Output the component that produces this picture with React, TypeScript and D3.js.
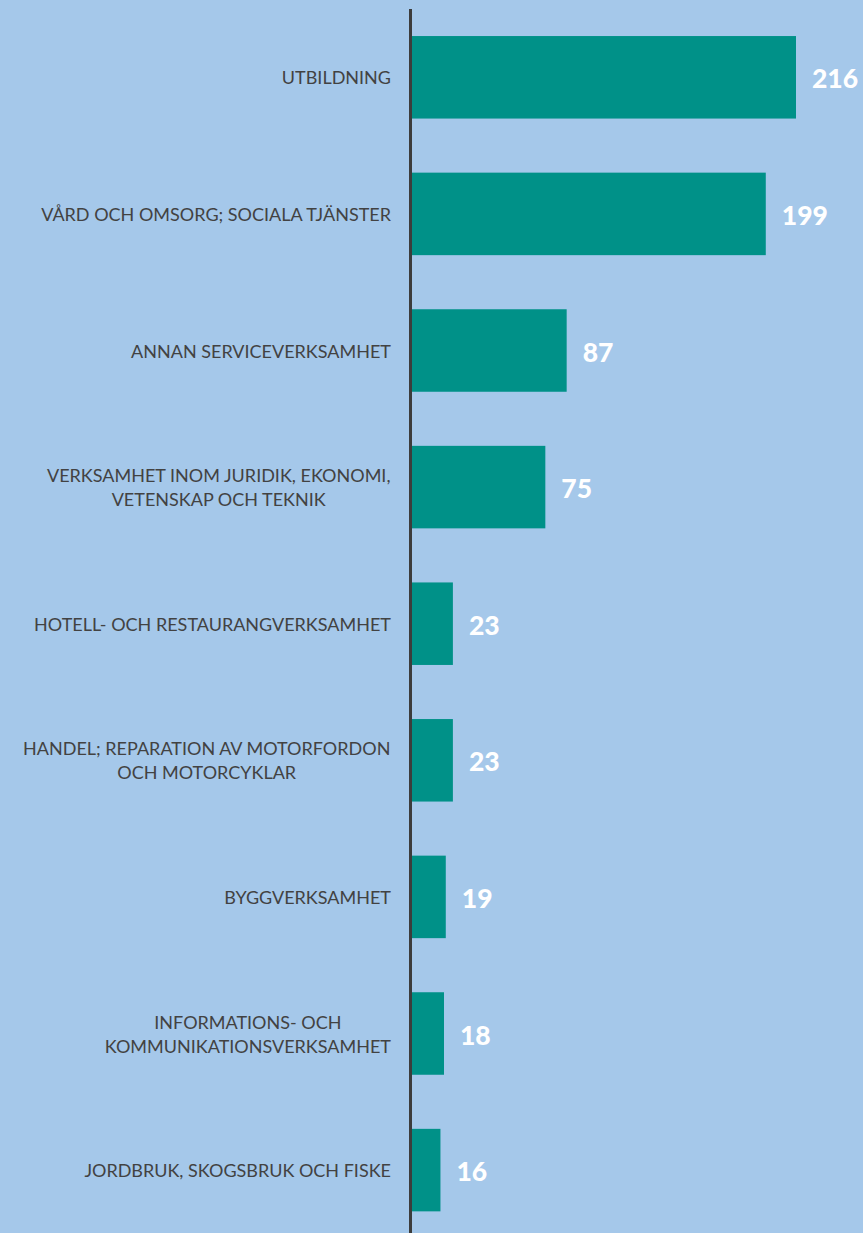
import React from "react";
import * as d3 from "d3";

const categories: string[][] = [
  ["UTBILDNING"],
  ["VÅRD OCH OMSORG; SOCIALA TJÄNSTER"],
  ["ANNAN SERVICEVERKSAMHET"],
  ["VERKSAMHET INOM JURIDIK, EKONOMI,", "VETENSKAP OCH TEKNIK"],
  ["HOTELL- OCH RESTAURANGVERKSAMHET"],
  ["HANDEL; REPARATION AV MOTORFORDON", "OCH MOTORCYKLAR"],
  ["BYGGVERKSAMHET"],
  ["INFORMATIONS- OCH", "KOMMUNIKATIONSVERKSAMHET"],
  ["JORDBRUK, SKOGSBRUK OCH FISKE"],
];
const values: number[] = [216, 199, 87, 75, 23, 23, 19, 18, 16];

const W = 863;
const H = 1233;
const LABEL_FONT = "Lato, 'Open Sans', sans-serif";
const LABEL_SIZE = 18;

function measure(t: string): number {
  if (typeof document === "undefined") return t.length * 10;
  const c = (measure as any).ctx || ((measure as any).ctx = document.createElement("canvas").getContext("2d"));
  c.font = `${LABEL_SIZE}px ${LABEL_FONT}`;
  return c.measureText(t).width;
}

export default function App() {
  const keys = categories.map((_, i) => String(i));
  const y = d3.scaleBand<string>().domain(keys).range([9, 1238.4]).paddingInner(0.396).paddingOuter(0.198);
  const x = d3.scaleLinear().domain([0, 216]).range([412, 796]);
  const axisX = 410.5;
  const labelRight = 391;
  return (
    <svg width={W} height={H} style={{ position: "absolute", left: 0, top: 0, display: "block" }}>
      <rect x={0} y={0} width={W} height={H} fill="#A5C8EA" />
      {values.map((v, i) => {
        const y0 = y(keys[i])!;
        const bw = y.bandwidth();
        const cy = y0 + bw / 2;
        const lines = categories[i];
        const lh = 24;
        const multi = lines.length > 1;
        const blockW = Math.max(...lines.map(measure));
        const cx = labelRight - blockW / 2;
        return (
          <g key={i}>
            <rect x={x(0)} y={y0} width={x(v) - x(0)} height={bw} fill="#009188" />
            <text
              x={x(v) + 16}
              y={cy + 1}
              dominantBaseline="central"
              fill="#ffffff"
              fontFamily="Lato, 'Open Sans', sans-serif"
              fontWeight={900}
              fontSize={26.5}
            >
              {v}
            </text>
            {lines.map((t, j) => (
              <text
                key={j}
                x={multi ? cx : labelRight}
                y={cy + (j - (lines.length - 1) / 2) * lh}
                textAnchor={multi ? "middle" : "end"}
                dominantBaseline="central"
                fill="#424242"
                fontFamily={LABEL_FONT}
                fontSize={LABEL_SIZE}
              >
                {t}
              </text>
            ))}
          </g>
        );
      })}
      <line x1={axisX} x2={axisX} y1={9} y2={H} stroke="#3c3c3c" strokeWidth={3} />
    </svg>
  );
}
